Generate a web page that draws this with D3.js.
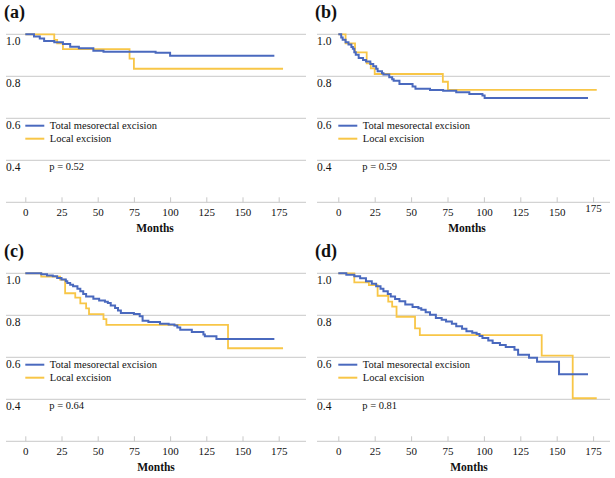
<!DOCTYPE html>
<html><head><meta charset="utf-8">
<script src="https://cdn.jsdelivr.net/npm/d3@7/dist/d3.min.js"></script>
<style>
html,body{margin:0;padding:0;background:#fff;}
</style></head>
<body>
<svg id="chart" width="615" height="478"></svg>
<script>
// ---------- DATA ----------
const panelLetters = ["(a)", "(b)", "(c)", "(d)"];
const pValues = ["p = 0.52", "p = 0.59", "p = 0.64", "p = 0.81"];
const seriesNames = ["Total mesorectal excision", "Local excision"];
const xTicks = [0, 25, 50, 75, 100, 125, 150, 175];
const yTicks = [1.0, 0.8, 0.6, 0.4, 0.2];
const yTickLabels = ["1.0", "0.8", "0.6", "0.4", ""];

// [month, survival] step points (last point = end of follow-up)
const tmeA = [[0,1],[6,0.99],[10,0.98],[13,0.968],[20,0.962],[26,0.954],[31,0.941],[37,0.933],[47,0.922],[54,0.917],[90,0.912],[100,0.898],[172,0.898]];
const leA  = [[0,1],[20,0.973],[22,0.957],[26,0.929],[72,0.884],[75,0.836],[178,0.836]];

const tmeB = [[0,1],[2,0.985],[3,0.974],[5,0.962],[7,0.951],[9,0.94],[10,0.931],[11,0.915],[12,0.903],[14,0.887],[17,0.878],[19,0.871],[22,0.858],[24,0.848],[26,0.836],[27,0.824],[30,0.815],[31,0.808],[35,0.795],[37,0.786],[38,0.779],[42,0.763],[51,0.752],[53,0.741],[63,0.735],[72,0.731],[81,0.724],[90,0.716],[99,0.709],[100.5,0.697],[171.5,0.697]];
const leB  = [[0,1],[5,0.957],[11.5,0.914],[19.5,0.862],[22.3,0.838],[25,0.811],[71.8,0.774],[75.3,0.735],[177.5,0.735]];

const tmeC = [[0,1],[11,0.995],[15,0.99],[19,0.986],[22,0.978],[25,0.97],[28,0.962],[29,0.954],[31,0.946],[33,0.938],[36,0.926],[38,0.914],[40,0.902],[42,0.89],[47,0.879],[51,0.871],[55,0.865],[57,0.859],[59,0.847],[62,0.835],[64,0.823],[66,0.811],[75,0.806],[79,0.795],[81,0.774],[85,0.768],[93,0.76],[99,0.756],[103,0.752],[105,0.742],[107,0.731],[115,0.72],[123,0.708],[124,0.7],[132,0.687],[172,0.687]];
const leC  = [[0,1],[11,0.984],[24,0.97],[27.5,0.905],[34.5,0.884],[38,0.857],[42,0.833],[44,0.806],[54,0.782],[56,0.754],[140,0.643],[178,0.643]];

const tmeD = [[0,1],[5.5,0.993],[11,0.986],[15,0.977],[19,0.962],[23,0.95],[26,0.938],[29,0.926],[31,0.914],[34,0.902],[36,0.89],[39,0.878],[42,0.867],[46,0.851],[51,0.84],[55,0.833],[57,0.827],[60,0.815],[63,0.803],[67,0.787],[71,0.779],[74,0.771],[78,0.76],[81,0.748],[85,0.736],[88,0.724],[92,0.717],[95,0.711],[97,0.702],[99,0.692],[103,0.68],[106,0.668],[111,0.658],[115,0.649],[121,0.636],[123.5,0.612],[131,0.598],[136.5,0.579],[151.6,0.519],[171.5,0.519]];
const leD  = [[0,1],[11,0.957],[21,0.944],[27,0.893],[34.3,0.865],[37,0.841],[40,0.793],[52.7,0.738],[56,0.706],[139.7,0.608],[161,0.405],[177.5,0.405]];

const tmeSeries = [tmeA, tmeB, tmeC, tmeD];
const leSeries  = [leA, leB, leC, leD];

// ---------- LAYOUT ----------
const FONT = "'Liberation Serif'";
const colors = { tme: "#4a69be", le: "#f8c647", grid: "#c8c8c8", text: "#111" };
const panels = [
  { gx0: 6,   gx1: 306, x0: 25.3,  x1: 278.7, yTop: 34.3,  yBot: 202.3, monthsX: 155 },
  { gx0: 317, gx1: 610, x0: 338.3, x1: 593.1, yTop: 34.3,  yBot: 202.3, monthsX: 467 },
  { gx0: 6,   gx1: 306, x0: 25.3,  x1: 278.7, yTop: 273.3, yBot: 441.3, monthsX: 156 },
  { gx0: 317, gx1: 610, x0: 338.3, x1: 593.1, yTop: 273.3, yBot: 441.3, monthsX: 469 }
];

const svg = d3.select("#chart");

function txt(sel, size, bold) {
  return sel.style("font-family", FONT).style("font-size", size + "px")
    .style("font-weight", bold ? "bold" : "normal").style("fill", colors.text);
}

panels.forEach((p, i) => {
  const g = svg.append("g");
  const x = d3.scaleLinear().domain([0, 175]).range([p.x0, p.x1]);
  const y = d3.scaleLinear().domain([0.2, 1.0]).range([p.yBot, p.yTop]);

  // panel letter
  txt(g.append("text").attr("x", p.gx0 - 2).attr("y", p.yTop - 16), 18, true).text(panelLetters[i]);

  // gridlines
  g.selectAll("line.grid").data(yTicks).enter().append("line")
    .attr("x1", p.gx0).attr("x2", p.gx1)
    .attr("y1", d => y(d)).attr("y2", d => y(d))
    .attr("stroke", colors.grid).attr("stroke-width", 1);

  // y labels
  txt(g.selectAll("text.ylab").data(yTicks).enter().append("text")
    .attr("x", p.gx0).attr("y", d => y(d) + 11), 11.5, false).text((d, k) => yTickLabels[k]);

  // x axis ticks and labels
  const axis = d3.axisBottom(x).tickValues(xTicks).tickSize(-5).tickPadding(6).tickFormat(d3.format("d"));
  const ax = g.append("g").attr("transform", `translate(0,${p.yBot})`).call(axis);
  ax.attr("font-family", null).attr("font-size", null);
  ax.select(".domain").remove();
  ax.selectAll(".tick line").attr("stroke", colors.grid);
  txt(ax.selectAll(".tick text"), 11, false);
  if (i === 1) ax.selectAll(".tick text").filter(d => d === 175).attr("dy", "0.35em");

  // Months
  txt(g.append("text").attr("x", p.monthsX).attr("y", p.yBot + 30).attr("text-anchor", "middle"), 11.5, true)
    .text("Months");

  // curves
  const line = d3.line().x(d => x(d[0])).y(d => y(d[1])).curve(d3.curveStepAfter);
  g.append("path").datum(leSeries[i]).attr("d", line)
    .attr("fill", "none").attr("stroke", colors.le).attr("stroke-width", 1.8);
  g.append("path").datum(tmeSeries[i]).attr("d", line)
    .attr("fill", "none").attr("stroke", colors.tme).attr("stroke-width", 2);

  // legend
  const legColors = [colors.tme, colors.le];
  const ly = p.yTop + 91.4;
  seriesNames.forEach((name, k) => {
    const yy = ly + k * 13;
    g.append("line").attr("x1", x(0)).attr("x2", x(0) + 19).attr("y1", yy).attr("y2", yy)
      .attr("stroke", legColors[k]).attr("stroke-width", 2);
    txt(g.append("text").attr("x", x(0) + 24.5).attr("y", yy).attr("dy", "0.33em"), 10.5, false).text(name);
  });
  txt(g.append("text").attr("x", x(0) + 24).attr("y", p.yTop + 132.4).attr("dy", "0.33em"), 10.5, false)
    .text(pValues[i]);
});
</script>
</body></html>
